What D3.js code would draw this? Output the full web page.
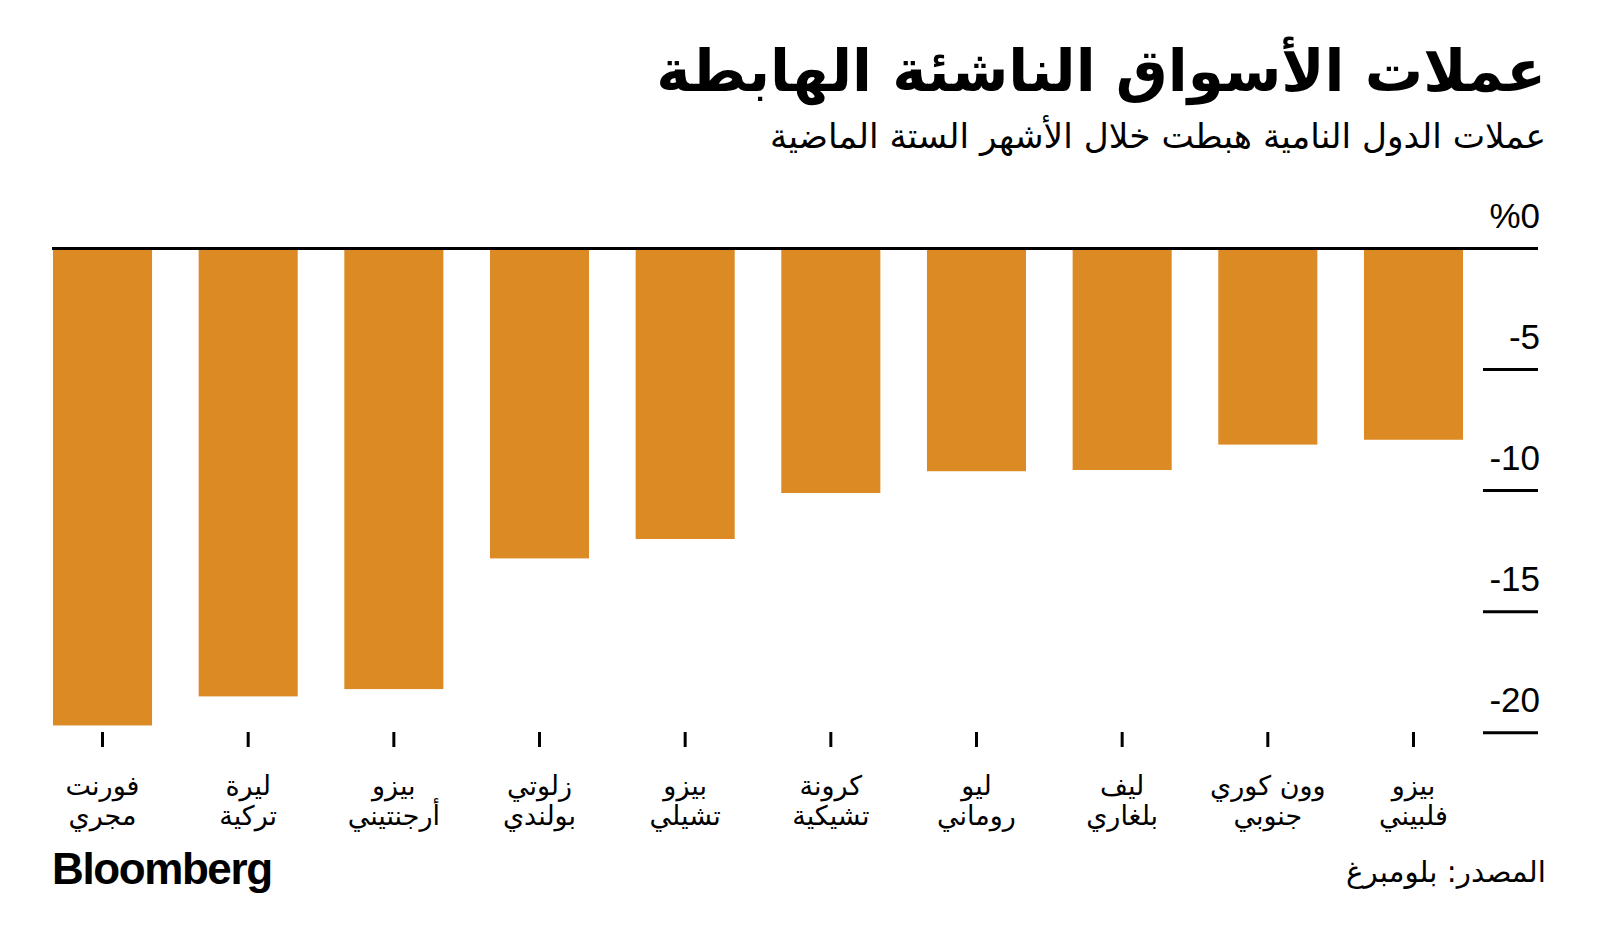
<!DOCTYPE html>
<html lang="ar">
<head>
<meta charset="utf-8">
<script src="https://cdn.jsdelivr.net/npm/d3@7"></script>
<style>
  html, body { margin: 0; padding: 0; background: #ffffff; }
  svg { display: block; }
</style>
</head>
<body>
<svg id="chart" width="1600" height="946"></svg>
<script>
// ---- data ----
const categoriesLine1 = ["فورنت", "ليرة", "بيزو", "زلوتي", "بيزو", "كرونة", "ليو", "ليف", "وون كوري", "بيزو"];
const categoriesLine2 = ["مجري", "تركية", "أرجنتيني", "بولندي", "تشيلي", "تشيكية", "روماني", "بلغاري", "جنوبي", "فلبيني"];
const values = [-19.7, -18.5, -18.2, -12.8, -12.0, -10.1, -9.2, -9.15, -8.1, -7.9];
const tickValues = [0, -5, -10, -15, -20];
const tickLabels = ["%0", "-5", "-10", "-15", "-20"];
const titleText = "عملات الأسواق الناشئة الهابطة";
const subtitleText = "عملات الدول النامية هبطت خلال الأشهر الستة الماضية";
const sourceText = "المصدر: بلومبرغ";
const logoText = "Bloomberg";

// ---- layout ----
const svg = d3.select("#chart");
const arabicFont = "'DejaVu Sans', 'Noto Sans', sans-serif";
const numFont = "'Liberation Sans', Arial, sans-serif";
const barColor = "#dc8a24";

const ids = d3.range(values.length);
const x = d3.scaleBand().domain(ids).range([53, 1463]).paddingInner(0.32).paddingOuter(0);
const y = d3.scaleLinear().domain([0, -20]).range([248.5, 732.7]);

function fitWidth(sel, target) {
  const node = sel.node();
  const w = node.getComputedTextLength();
  const fs = parseFloat(sel.attr("font-size"));
  sel.attr("font-size", (fs * target / w).toFixed(2));
}

// title
const title = svg.append("text")
  .attr("x", 1546).attr("y", 91)
  .attr("text-anchor", "end")
  .attr("font-family", arabicFont).attr("font-weight", "bold")
  .attr("font-size", 58).attr("fill", "#000")
  .text(titleText);
fitWidth(title, 890);

const subtitle = svg.append("text")
  .attr("x", 1546).attr("y", 148)
  .attr("text-anchor", "end")
  .attr("font-family", arabicFont)
  .attr("font-size", 30).attr("fill", "#000")
  .text(subtitleText);
fitWidth(subtitle, 776);

// bars
svg.append("g").selectAll("rect").data(ids).join("rect")
  .attr("x", i => x(i))
  .attr("width", x.bandwidth())
  .attr("y", y(0))
  .attr("height", i => y(values[i]) - y(0))
  .attr("fill", barColor);

// zero line
svg.append("line")
  .attr("x1", 52).attr("x2", 1538)
  .attr("y1", y(0)).attr("y2", y(0))
  .attr("stroke", "#000").attr("stroke-width", 3);

// y ticks (right side)
const yTicks = svg.append("g");
yTicks.selectAll("line").data(tickValues.filter(v => v !== 0)).join("line")
  .attr("x1", 1483).attr("x2", 1538)
  .attr("y1", v => y(v)).attr("y2", v => y(v))
  .attr("stroke", "#000").attr("stroke-width", 3);
yTicks.selectAll("text").data(tickValues).join("text")
  .attr("x", 1540)
  .attr("y", v => y(v) - 21)
  .attr("text-anchor", "end")
  .attr("font-family", numFont)
  .attr("font-size", 35)
  .attr("fill", "#000")
  .text((v, i) => tickLabels[i]);

// x ticks
svg.append("g").selectAll("line").data(ids).join("line")
  .attr("x1", i => x(i) + x.bandwidth() / 2)
  .attr("x2", i => x(i) + x.bandwidth() / 2)
  .attr("y1", 732).attr("y2", 747)
  .attr("stroke", "#000").attr("stroke-width", 3);

// x labels
const lab = svg.append("g").selectAll("text").data(ids).join("text")
  .attr("text-anchor", "middle")
  .attr("font-family", arabicFont)
  .attr("font-size", 27)
  .attr("fill", "#000");
lab.append("tspan")
  .attr("x", i => x(i) + x.bandwidth() / 2).attr("y", 795)
  .text(i => categoriesLine1[i]);
lab.append("tspan")
  .attr("x", i => x(i) + x.bandwidth() / 2).attr("y", 825)
  .text(i => categoriesLine2[i]);

// logo
svg.append("text")
  .attr("x", 52).attr("y", 884)
  .attr("font-family", numFont).attr("font-weight", "bold")
  .attr("font-size", 44).attr("letter-spacing", -1.4)
  .attr("fill", "#000")
  .text(logoText);

// source
const src = svg.append("text")
  .attr("x", 1546).attr("y", 882)
  .attr("text-anchor", "end")
  .attr("font-family", arabicFont)
  .attr("font-size", 28).attr("fill", "#000")
  .text(sourceText);
fitWidth(src, 200);
</script>
</body>
</html>
